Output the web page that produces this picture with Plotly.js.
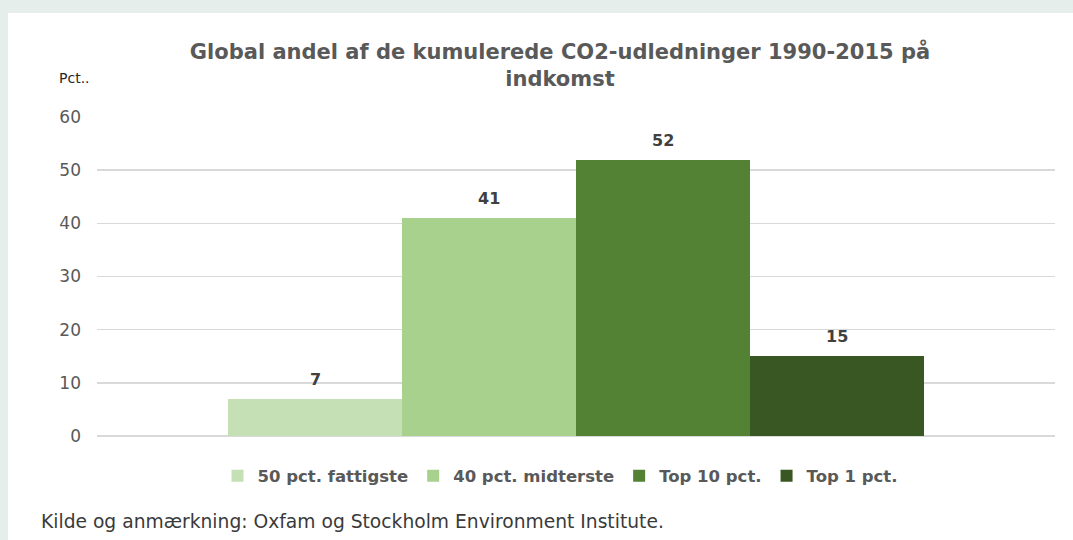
<!DOCTYPE html>
<html>
<head>
<meta charset="utf-8">
<script src="https://cdn.plot.ly/plotly-3.0.1.min.js"></script>
<style>
  html, body { margin: 0; padding: 0; background: #e5eeea; width: 1073px; height: 540px; overflow: hidden; }
  #chart { position: absolute; left: 8px; top: 13px; width: 1065px; height: 527px; }
</style>
</head>
<body>
<div id="chart"></div>
<script>
// Data
const seriesNames = ["50 pct. fattigste", "40 pct. midterste", "Top 10 pct.", "Top 1 pct."];
const seriesValues = [7, 41, 52, 15];
const seriesColors = ["#c5e0b4", "#a9d18e", "#548235", "#385723"];
const yTicks = [0, 10, 20, 30, 40, 50, 60];

const titleText = "Global andel af de kumulerede CO2-udledninger 1990-2015 på<br>indkomst";
const yUnit = "Pct..";
const sourceText = "Kilde og anmærkning: Oxfam og Stockholm Environment Institute.";

const FONT = "DejaVu Sans, Liberation Sans, Arial, sans-serif";

const traces = seriesNames.map((name, i) => ({
  type: "bar",
  name: name,
  x: [i],
  y: [seriesValues[i]],
  width: 1,
  marker: { color: seriesColors[i], line: { width: 0 } },
  hoverinfo: "skip"
}));

const annotations = seriesValues.map((v, i) => ({
  x: i, y: v, xref: "x", yref: "y",
  text: String(v),
  showarrow: false,
  yanchor: "bottom",
  yshift: 8,
  font: { family: FONT, size: 16, color: "#404040", weight: "bold" }
}));

annotations.push({
  xref: "paper", yref: "paper",
  x: (49 - 89) / 958, y: (423 - 65) / 319,
  xanchor: "left", yanchor: "middle",
  text: yUnit, showarrow: false,
  font: { family: FONT, size: 14, color: "#262626" }
});

annotations.push({
  xref: "paper", yref: "paper",
  x: (31 - 89) / 958, y: (423 - 508) / 319,
  xanchor: "left", yanchor: "middle",
  text: sourceText, showarrow: false,
  font: { family: FONT, size: 18.7, color: "#3a3a3a" }
});

const layout = {
  width: 1065, height: 527,
  paper_bgcolor: "#ffffff", plot_bgcolor: "#ffffff",
  margin: { l: 89, r: 18, t: 104, b: 104 },
  barmode: "overlay",
  bargap: 0,
  showlegend: true,
  title: {
    text: titleText,
    font: { family: FONT, size: 21, color: "#595959", weight: "bold" },
    xref: "container", x: 552 / 1065, xanchor: "center",
    yref: "container", y: 1 - 46 / 527, yanchor: "top"
  },
  xaxis: {
    range: [1.5 - 958 / 174 / 2, 1.5 + 958 / 174 / 2],
    showticklabels: false, showgrid: false, zeroline: false, ticks: "",
    fixedrange: true
  },
  yaxis: {
    range: [0, 60],
    tickvals: yTicks,
    ticktext: yTicks.map(String),
    showgrid: true, gridcolor: "#d9d9d9", gridwidth: 1.5,
    zeroline: true, zerolinecolor: "#d9d9d9", zerolinewidth: 1.5,
    showline: false, ticks: "",
    ticklabelstandoff: 15,
    tickfont: { family: FONT, size: 17, color: "#595959" },
    fixedrange: true
  },
  legend: {
    orientation: "h",
    xref: "paper", yref: "paper",
    x: (552 - 89) / 958, xanchor: "center",
    y: (423 - 463) / 319, yanchor: "middle",
    font: { family: FONT, size: 16.5, color: "#595959", weight: "bold" },
    itemwidth: 30,
    traceorder: "normal",
    bgcolor: "rgba(0,0,0,0)"
  },
  annotations: annotations
};

Plotly.newPlot("chart", traces, layout, { displayModeBar: false, staticPlot: true });
</script>
</body>
</html>
